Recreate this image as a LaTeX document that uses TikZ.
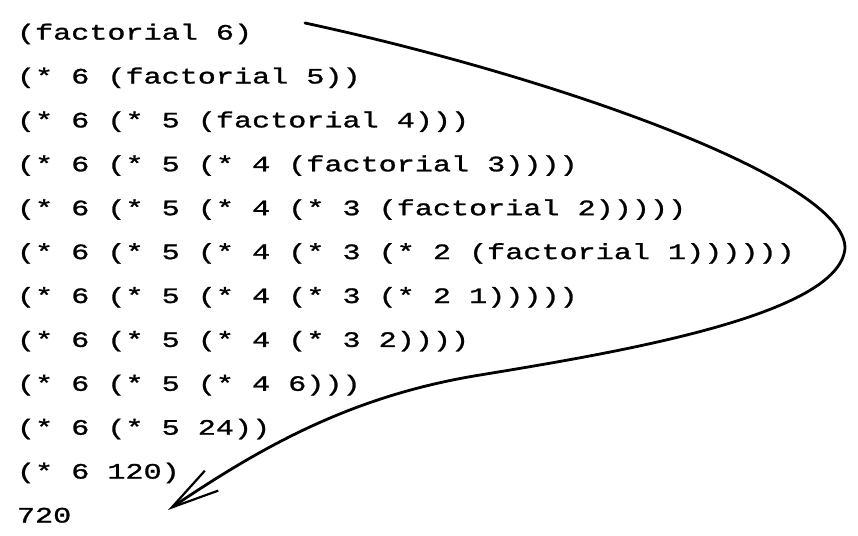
\documentclass[tikz,border=0pt]{standalone}
\usepackage{fontspec}
\usetikzlibrary{arrows.meta}
\newfontfamily\codefont[FakeStretch=1.37,FakeBold=1.2]{Liberation Mono}
\tikzset{
  code/.style={anchor=base west, inner sep=0pt, outer sep=0pt,
    font=\codefont\fontsize{22}{22}\selectfont},
  curve/.style={line width=2.8pt, line cap=round,
    -{Straight Barb[length=48pt,width=24pt,line width=2.2pt]}}
}
\begin{document}
\begin{tikzpicture}[x=1pt,y=-1pt]
\useasboundingbox (0,0) rectangle (858,535);
\node[code] (l1)  at (17,39.6)  {(factorial 6)};
\node[code] (l2)  at (17,83.5)  {(* 6 (factorial 5))};
\node[code] (l3)  at (17,127.4) {(* 6 (* 5 (factorial 4)))};
\node[code] (l4)  at (17,171.3) {(* 6 (* 5 (* 4 (factorial 3))))};
\node[code] (l5)  at (17,215.2) {(* 6 (* 5 (* 4 (* 3 (factorial 2)))))};
\node[code] (l6)  at (17,259.1) {(* 6 (* 5 (* 4 (* 3 (* 2 (factorial 1))))))};
\node[code] (l7)  at (17,303.0) {(* 6 (* 5 (* 4 (* 3 (* 2 1)))))};
\node[code] (l8)  at (17,346.9) {(* 6 (* 5 (* 4 (* 3 2))))};
\node[code] (l9)  at (17,390.8) {(* 6 (* 5 (* 4 6)))};
\node[code] (l10) at (17,434.7) {(* 6 (* 5 24))};
\node[code] (l11) at (17,478.6) {(* 6 120)};
\node[code] (l12) at (17,522.5) {720};
\coordinate (s) at (305,23);
\coordinate (r) at (845,248);
\coordinate (m) at (480,375);
\coordinate (t) at (168,510);
\draw[curve] (s) .. controls (560,78) and (845,180) .. (r)
  .. controls (840,315) and (620,352) .. (m)
  .. controls (350,396) and (260,448) .. (t);
\end{tikzpicture}
\end{document}
